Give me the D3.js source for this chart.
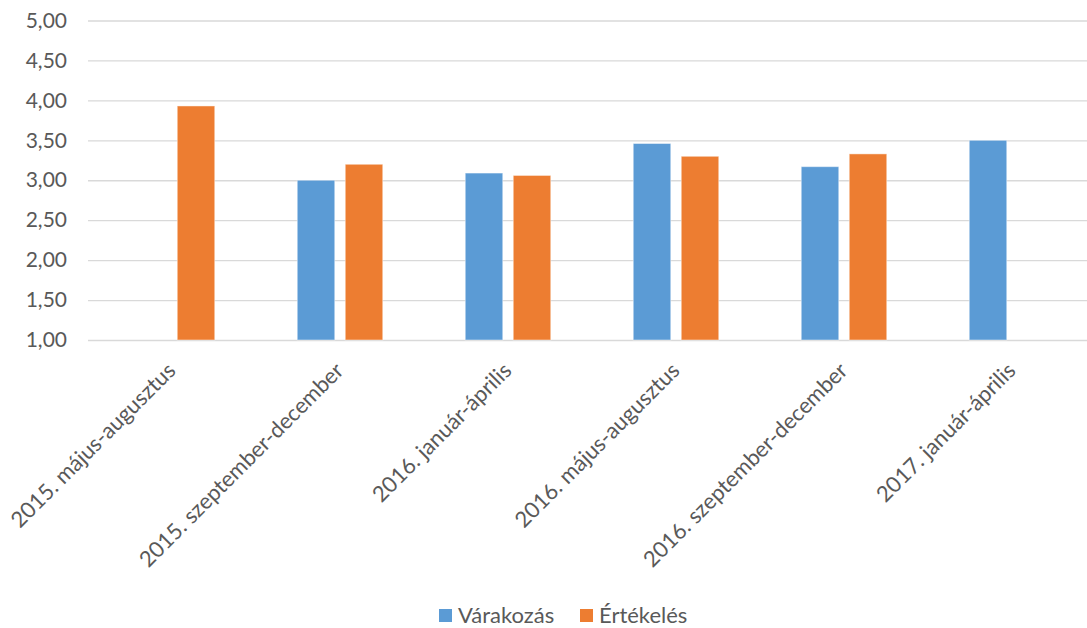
<!DOCTYPE html>
<html><head><meta charset="utf-8">
<script src="https://cdn.jsdelivr.net/npm/d3@7"></script>
<style>html,body{margin:0;padding:0;background:#fff;}svg{display:block;}</style>
</head><body>
<svg id="c" width="1087" height="628"></svg>
<script>
const categories = ["2015. május-augusztus","2015. szeptember-december","2016. január-április","2016. május-augusztus","2016. szeptember-december","2017. január-április"];
const seriesNames = ["Várakozás","Értékelés"];
const varakozas = [null, 3.00, 3.09, 3.46, 3.17, 3.50];
const ertekeles = [3.93, 3.20, 3.06, 3.30, 3.33, null];
const yTicks = [1.0,1.5,2.0,2.5,3.0,3.5,4.0,4.5,5.0];
const colors = ["#5B9BD5","#ED7D31"];

(function(){
const font = "Lato, 'Open Sans', sans-serif";
const svg = d3.select("#c");
const pL = 88, pR = 1096, pT = 20.5, pB = 340;
const x = d3.scaleBand().domain(categories).range([pL, pR]);
const y = d3.scaleLinear().domain([1,5]).range([pB, pT]);
const loc = d3.formatLocale({decimal:",", thousands:" ", grouping:[3], currency:["",""]});
const fmt = loc.format(".2f");

// gridlines
const grid = svg.append("g").attr("transform",`translate(${pL},0)`)
  .call(d3.axisLeft(y).tickValues(yTicks).tickSize(-(pR-pL)).tickFormat(""));
grid.select(".domain").remove();
grid.selectAll("line").attr("stroke","#D9D9D9").attr("stroke-width",1.3);

// y labels
const yax = svg.append("g").attr("transform",`translate(${pL},0)`)
  .call(d3.axisLeft(y).tickValues(yTicks).tickSize(0).tickPadding(21).tickFormat(fmt));
yax.select(".domain").remove();
yax.selectAll("text").attr("fill","#595959").style("font-family",font).style("font-size","21px");

// bars
const bw = 37.5, gap = 10.5;
const series = [varakozas, ertekeles];
series.forEach((vals, si) => {
  svg.append("g").selectAll("rect").data(categories.map((c,i)=>({c, v: vals[i]})).filter(d=>d.v!=null))
    .join("rect")
    .attr("x", d => x(d.c) + x.bandwidth()/2 + (si===0 ? -gap/2 - bw : gap/2))
    .attr("y", d => y(d.v))
    .attr("width", bw)
    .attr("height", d => y(1) - y(d.v))
    .attr("fill", colors[si])
    .attr("stroke", "#ffffff").attr("stroke-opacity",0.45).attr("stroke-width",1);
});

// x labels
const xax = svg.append("g").attr("transform",`translate(0,${pB})`)
  .call(d3.axisBottom(x).tickSize(0).tickPadding(0));
xax.select(".domain").remove();
xax.selectAll("text")
  .attr("fill","#595959").style("font-family",font).style("font-size","22px")
  .attr("text-anchor","end").attr("dy",null).attr("y",null)
  .attr("transform","translate(5,32) rotate(-45)");

// legend
const leg = svg.append("g");
const legX = [439, 580];
seriesNames.forEach((n,i)=>{
  leg.append("rect").attr("x",legX[i]).attr("y",609).attr("width",13).attr("height",13).attr("fill",colors[i]);
  leg.append("text").attr("x",legX[i]+19).attr("y",622.5).text(n)
    .attr("fill","#595959").style("font-family",font).style("font-size","22px");
});
})();
</script>
</body></html>
